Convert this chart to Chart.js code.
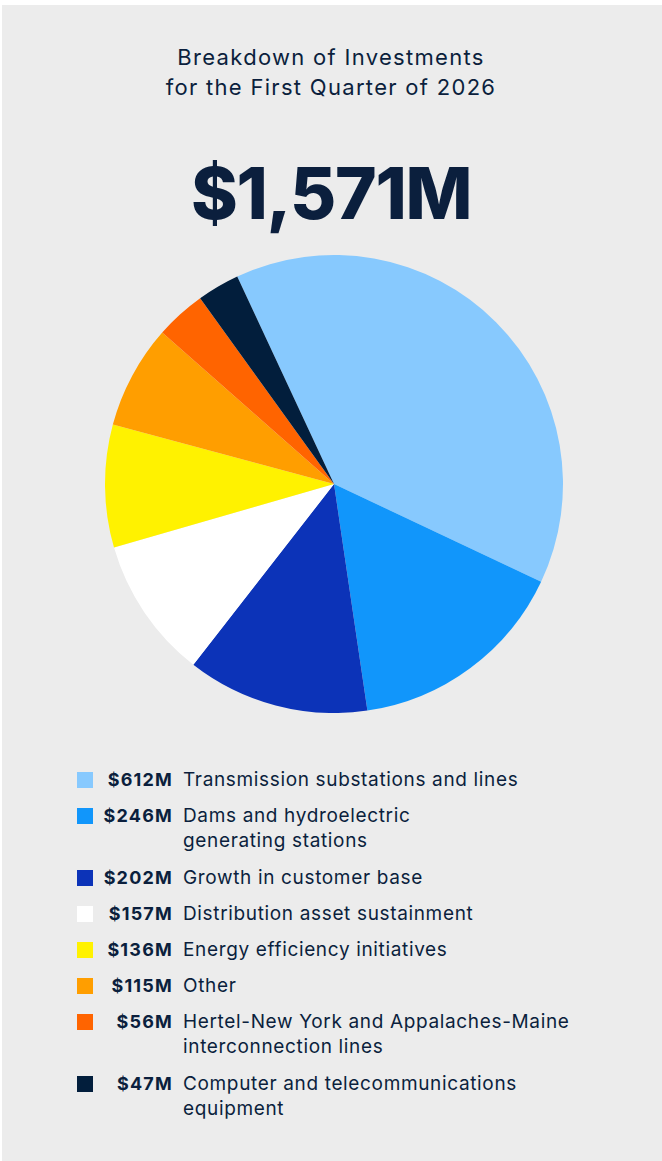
<!DOCTYPE html>
<html>
<head>
<meta charset="utf-8">
<script src="https://cdn.jsdelivr.net/npm/chart.js@4"></script>
<style>
  html, body { margin: 0; padding: 0; background: #ffffff; }
  body { width: 662px; height: 1161px; position: relative; overflow: hidden; font-family: "Inter", "Noto Sans", sans-serif; color: #0b1f3d; }
  #panel { position: absolute; left: 2px; top: 5px; width: 660px; height: 1156px; background: #ececec; }
  #title { position: absolute; left: 0; top: 42px; width: 662px; text-align: center; font-size: 22px; line-height: 30px; letter-spacing: 1.3px; }
  #total { position: absolute; left: 0; top: 148px; width: 662px; text-align: center; font-size: 71px; font-weight: 800; line-height: 90px; letter-spacing: -1.3px; }
  #pieBox { position: absolute; left: 105px; top: 255px; width: 458px; height: 458px; }
  #legend { position: absolute; left: 0; top: 767px; width: 662px; }
  .row { position: relative; height: 36px; }
  .row.two { height: 62px; }
  .sw { position: absolute; left: 77px; top: 5px; width: 16px; height: 16px; }
  .val { position: absolute; left: 80px; width: 93px; text-align: right; font-weight: 700; font-size: 18px; line-height: 26px; letter-spacing: 1.2px; }
  .lab { position: absolute; left: 183px; width: 440px; font-size: 19px; line-height: 25px; letter-spacing: 0.65px; }
</style>
</head>
<body>
<div id="panel"></div>
<div id="title">Breakdown of Investments<br>for the First Quarter of 2026</div>
<div id="total">$1,571M</div>
<div id="pieBox"><canvas id="pie"></canvas></div>
<div id="legend"></div>
<script>
  // categories and values (M$)
  const labels = [
    "Transmission substations and lines",
    "Dams and hydroelectric\ngenerating stations",
    "Growth in customer base",
    "Distribution asset sustainment",
    "Energy efficiency initiatives",
    "Other",
    "Hertel-New York and Appalaches-Maine\ninterconnection lines",
    "Computer and telecommunications\nequipment"
  ];
  const values = [612, 246, 202, 157, 136, 115, 56, 47];
  const colors = ["#87c9fe", "#1196fb", "#0c33b8", "#ffffff", "#fff200", "#ff9e00", "#ff6400", "#021e3c"];

  // legend built from the same arrays
  const legend = document.getElementById("legend");
  labels.forEach(function (lab, i) {
    const row = document.createElement("div");
    row.className = lab.indexOf("\n") >= 0 ? "row two" : "row";
    row.innerHTML =
      '<div class="sw" style="background:' + colors[i] + '"></div>' +
      '<div class="val">$' + values[i] + 'M</div>' +
      '<div class="lab">' + lab.replace("\n", "<br>") + '</div>';
    legend.appendChild(row);
  });

  new Chart(document.getElementById("pie"), {
    type: "pie",
    data: {
      labels: labels,
      datasets: [{
        data: values,
        backgroundColor: colors,
        borderWidth: 0
      }]
    },
    options: {
      responsive: true,
      maintainAspectRatio: false,
      animation: false,
      rotation: -25,
      layout: { padding: 0 },
      plugins: {
        legend: { display: false },
        tooltip: { enabled: false }
      }
    }
  });
</script>
</body>
</html>
